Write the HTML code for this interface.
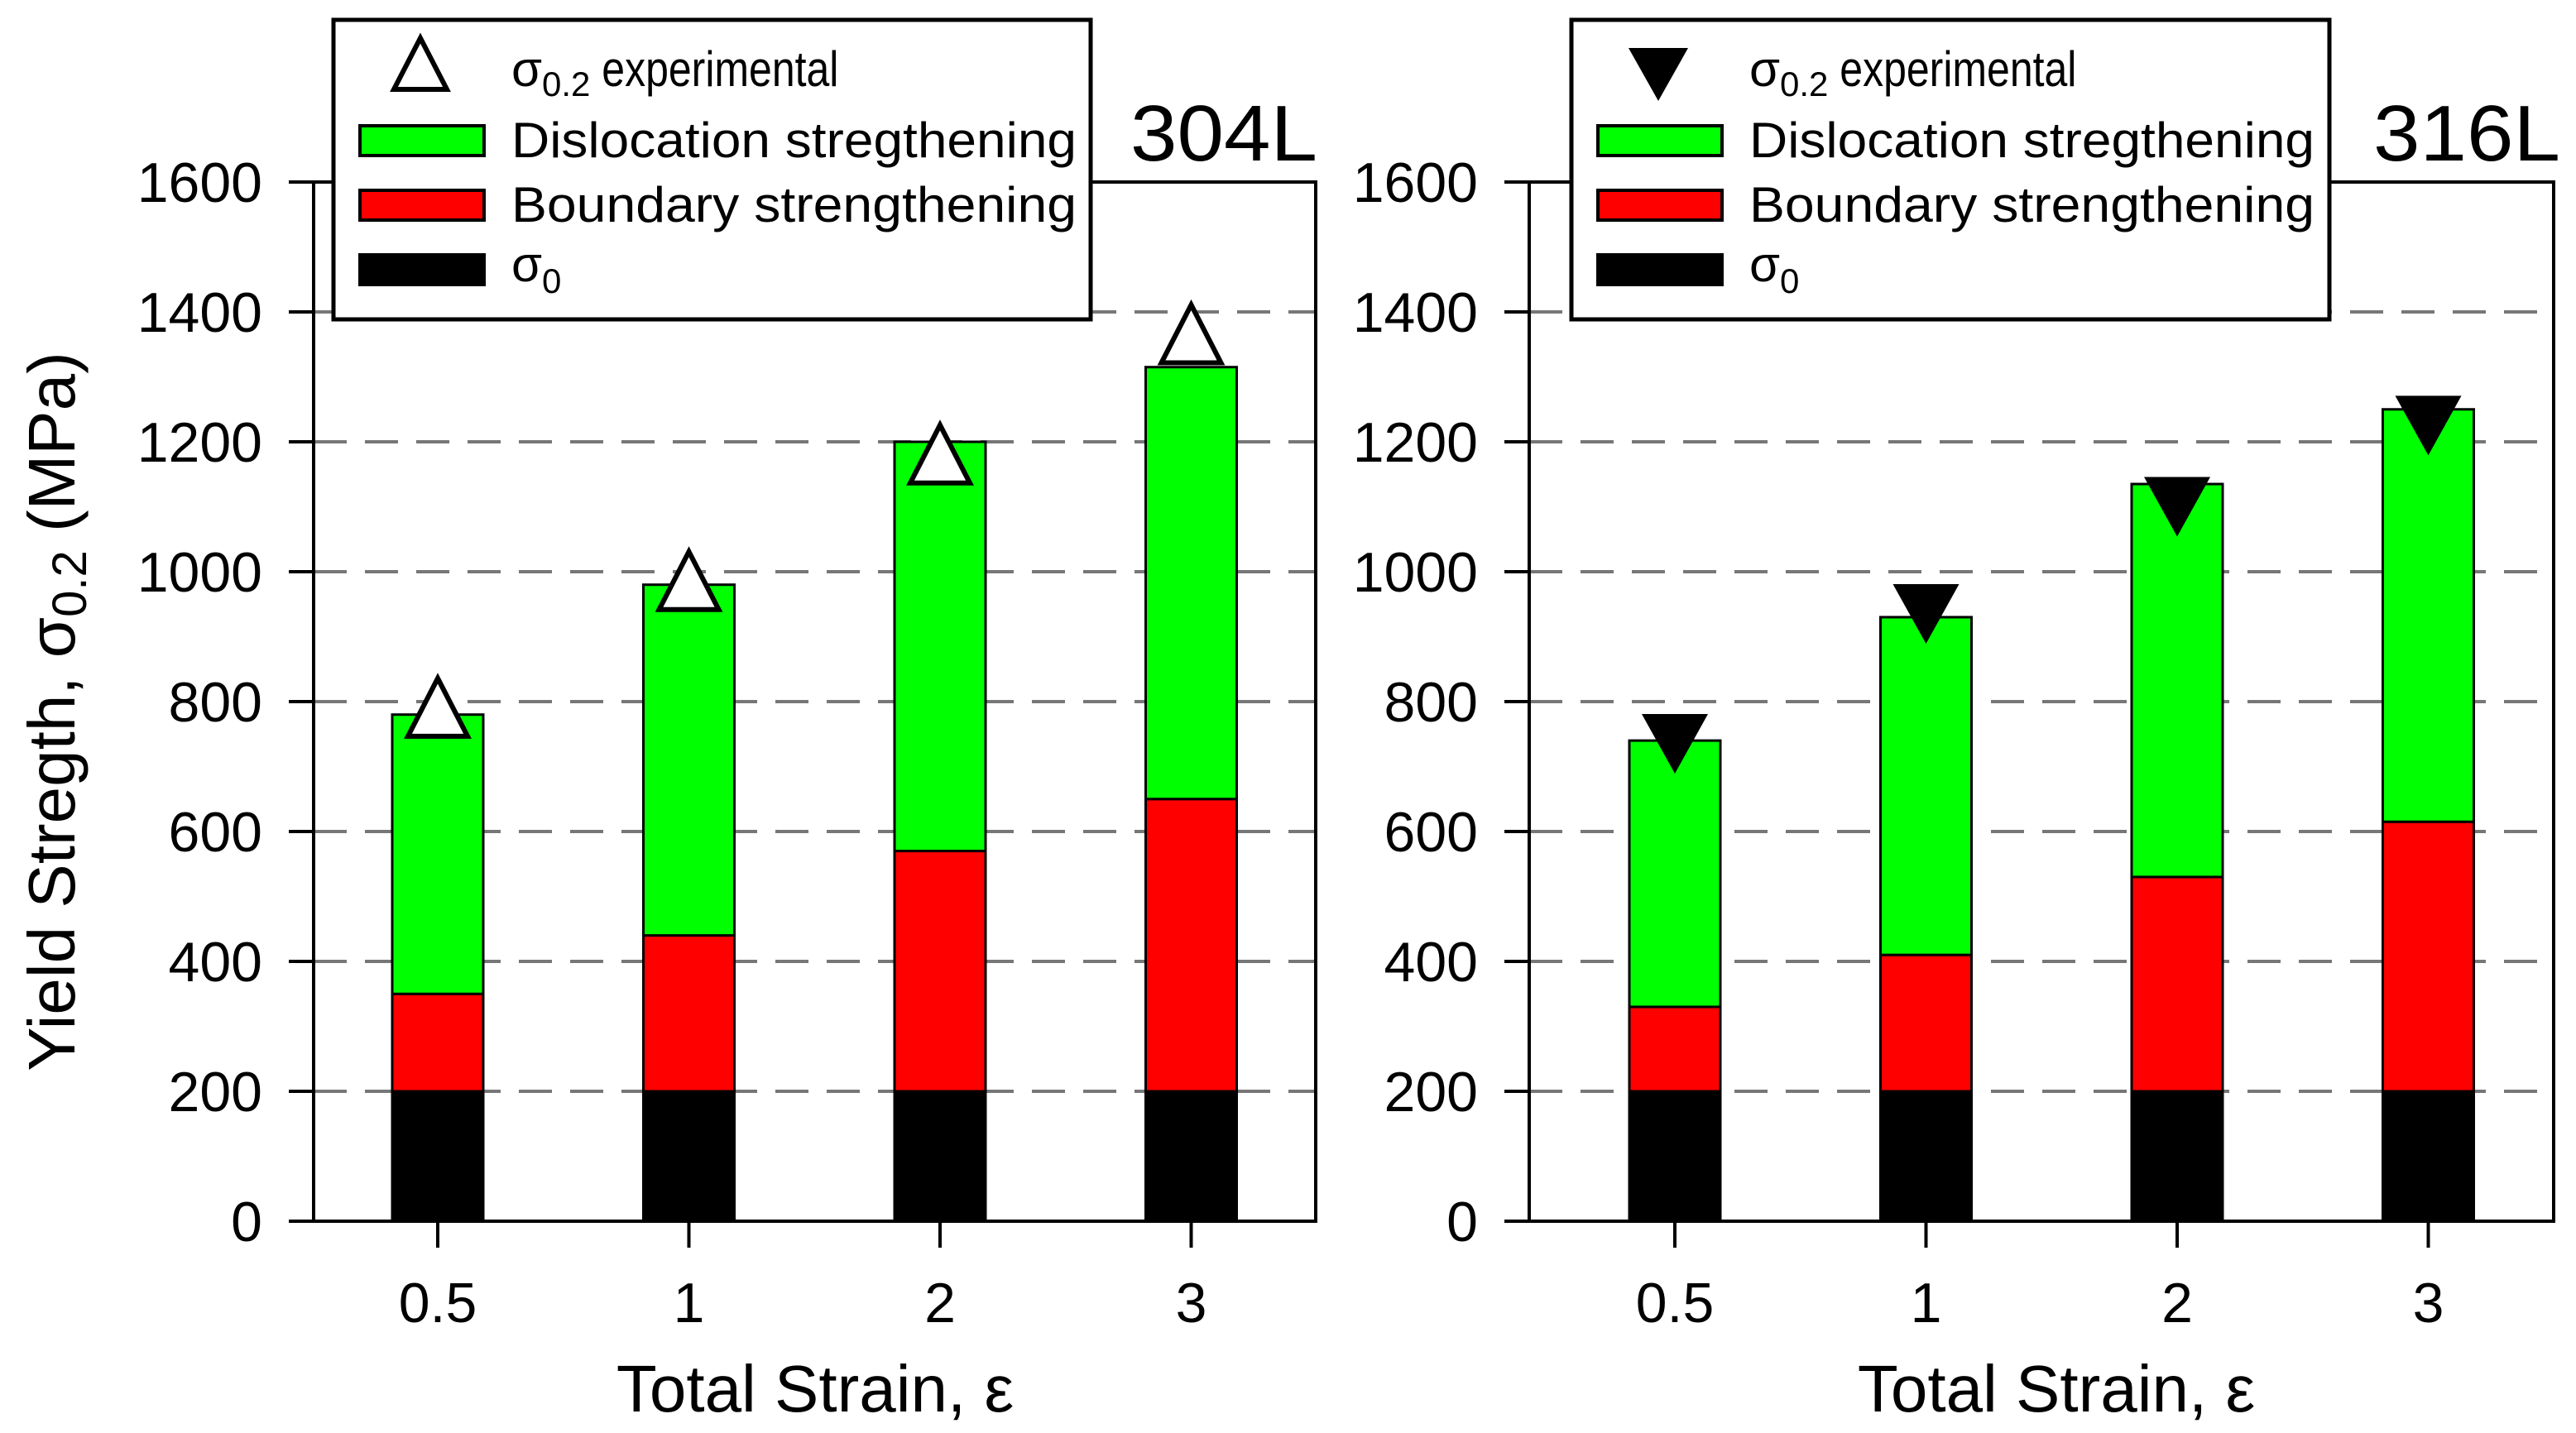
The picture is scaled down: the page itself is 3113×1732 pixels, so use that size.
<!DOCTYPE html>
<html><head><meta charset="utf-8"><style>
html,body{margin:0;padding:0;background:#fff}
svg{display:block;font-family:"Liberation Sans",Arial,sans-serif}
</style></head><body>
<svg id="c" width="3113" height="1732" viewBox="0 0 3113 1732" xmlns="http://www.w3.org/2000/svg"></svg>
<script>
const categories = ["0.5","1","2","3"];
const sigma0_304 = [200,200,200,200];
const boundaryTop_304 = [350,440,570,650];
const total_304 = [780,980,1200,1315];
const exp_304 = [790,985,1180,1365];
const sigma0_316 = [200,200,200,200];
const boundaryTop_316 = [330,410,530,615];
const total_316 = [740,930,1135,1250];
const exp_316 = [735,935,1100,1225];
const yTicks = [0,200,400,600,800,1000,1200,1400,1600];

const NS="http://www.w3.org/2000/svg";
const svg=document.getElementById('c');
function el(tag,attrs,parent){const e=document.createElementNS(NS,tag);for(const k in attrs)e.setAttribute(k,attrs[k]);(parent||svg).appendChild(e);return e;}
const Y0=1476, Y1=220;
function yS(v){return Y0-(v/1600)*(Y0-Y1);}

function panel(cfg){
  const g=el('g',{});
  
  
  const L=cfg.left,R=cfg.right;
  const step=303.5;
  function xS(i){return cfg.first+step*i;}
  yTicks.forEach(v=>{
    if(v===0||v===1600) return;
    const ln=el('line',{x1:L,x2:R,y1:yS(v),y2:yS(v),stroke:'#777','stroke-width':4,'stroke-dasharray':'40 22'},g);
    
    
  });
  const bw=110;
  categories.forEach((c,i)=>{
    const x=xS(i)-bw/2;
    const segs=[[0,cfg.s0[i],'#000','sigma0'],[cfg.s0[i],cfg.bt[i],'#ff0000','boundary'],[cfg.bt[i],cfg.tot[i],'#00ff00','dislocation']];
    segs.forEach(s=>{
      const r=el('rect',{x:x,y:yS(s[1]),width:bw,height:yS(s[0])-yS(s[1]),fill:s[2],stroke:'#000','stroke-width':3},g);
      
      
    });
  });
  categories.forEach((c,i)=>{
    const cx=xS(i),cy=yS(cfg.exp[i]);
    let p;
    if(cfg.inv){
      p=el('polygon',{points:`${cx-40},${cy-36} ${cx+40},${cy-36} ${cx},${cy+36}`,fill:'#000'},g);
    }else{
      p=el('polygon',{points:`${cx-36},${cy+34} ${cx+36},${cy+34} ${cx},${cy-36}`,fill:'#fff',stroke:'#000','stroke-width':6},g);
    }
    
    
  });
  const fr=el('rect',{x:L,y:Y1,width:R-L,height:Y0-Y1,fill:'none',stroke:'#000','stroke-width':4},g);
  
  
  yTicks.forEach(v=>{
    el('line',{x1:L-30,x2:L,y1:yS(v),y2:yS(v),stroke:'#000','stroke-width':4},g);
    const t=el('text',{x:L-62,y:yS(v)+24,'text-anchor':'end','font-size':68},g);
    t.textContent=v;
    
    
  });
  categories.forEach((c,i)=>{
    el('line',{x1:xS(i),x2:xS(i),y1:Y0,y2:Y0+32,stroke:'#000','stroke-width':4},g);
    const t=el('text',{x:xS(i),y:1598,'text-anchor':'middle','font-size':68},g);
    t.textContent=c;
    
    
  });
  const xt=el('text',{x:cfg.xtc,y:1706,'text-anchor':'middle','font-size':80},g);
  xt.textContent='Total Strain, ε';
  
  
  const ti=el('text',{x:cfg.titleX,y:194,'font-size':96,textLength:226,lengthAdjust:'spacingAndGlyphs'},g);
  ti.textContent=cfg.title;
  
  
  const lg=el('g',{},g);
  
  
  const lx=cfg.legX;
  el('rect',{x:lx,y:24,width:cfg.legW,height:362,fill:'#fff',stroke:'#000','stroke-width':5},lg);
  const mx=lx+105;
  if(cfg.inv) el('polygon',{points:`${mx-36},${58} ${mx+36},${58} ${mx},${122}`,fill:'#000'},lg);
  else el('polygon',{points:`${mx-32},${108} ${mx+32},${108} ${mx},${46}`,fill:'#fff',stroke:'#000','stroke-width':6},lg);
  const sw=[['#00ff00',170],['#ff0000',248],['#000',326]];
  sw.forEach(s=>{
    el('rect',{x:lx+32,y:s[1]-18,width:150,height:36,fill:s[0],stroke:'#000','stroke-width':4},lg);
  });
  const tx=lx+215;
  const e1=el('text',{x:tx,y:104,'font-size':60},lg);
  e1.innerHTML='σ<tspan font-size="42" dy="12">0.2</tspan><tspan dy="-12" textLength="300" lengthAdjust="spacingAndGlyphs"> experimental</tspan>';
  
  
  const e2=el('text',{x:tx,y:190,'font-size':60,textLength:683,lengthAdjust:'spacingAndGlyphs'},lg);
  e2.textContent='Dislocation stregthening';
  
  
  const e3=el('text',{x:tx,y:268,'font-size':60,textLength:683,lengthAdjust:'spacingAndGlyphs'},lg);
  e3.textContent='Boundary strengthening';
  
  
  const e4=el('text',{x:tx,y:340,'font-size':60},lg);
  e4.innerHTML='σ<tspan font-size="42" dy="14">0</tspan>';
  
  
}
panel({name:'panel-304L',left:379,right:1590,first:529,s0:sigma0_304,bt:boundaryTop_304,tot:total_304,exp:exp_304,inv:false,xtc:985,title:'304L',titleX:1366,legX:403,legW:915});
panel({name:'panel-316L',left:1848,right:3086,first:2024,s0:sigma0_316,bt:boundaryTop_316,tot:total_316,exp:exp_316,inv:true,xtc:2485,title:'316L',titleX:2868,legX:1899,legW:916});
const yt=el('text',{x:0,y:0,'font-size':80,'text-anchor':'middle',transform:'translate(90,860) rotate(-90)'});
yt.innerHTML='Yield Stregth, σ<tspan font-size="58" dy="14">0.2</tspan><tspan dy="-14"> (MPa)</tspan>';


</script>
</body></html>
